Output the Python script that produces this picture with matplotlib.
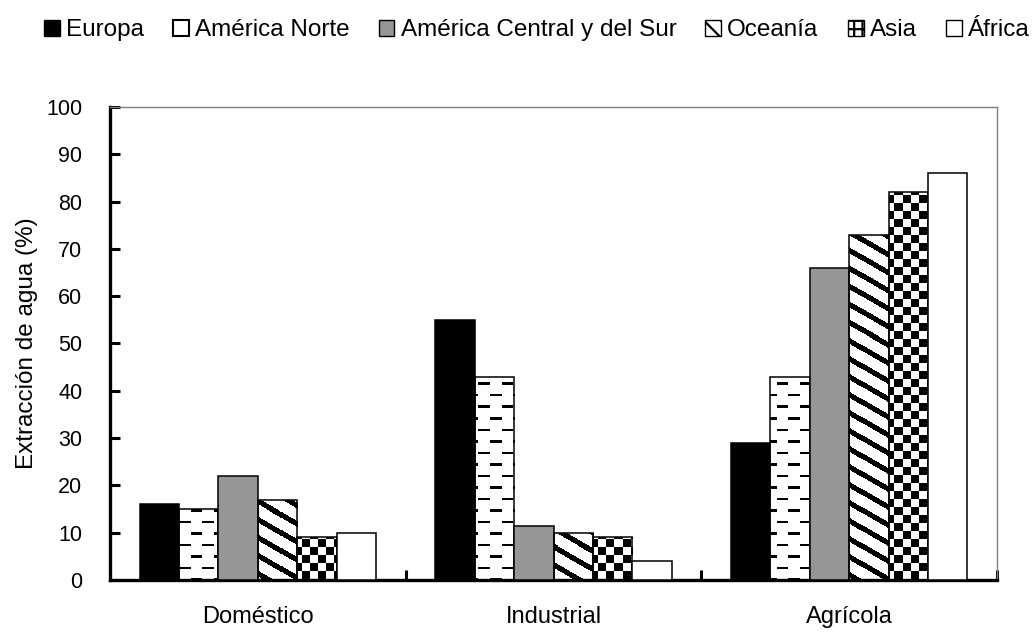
import numpy as np
import matplotlib
matplotlib.use("Agg")
import matplotlib.pyplot as plt
from matplotlib.patches import Patch

# ---- data ----
categories = ["Doméstico", "Industrial", "Agrícola"]
regions = ["Europa", "América Norte", "América Central y del Sur", "Oceanía", "Asia", "África"]
europa = [16, 55, 29]
america_norte = [15, 43, 43]
america_central_sur = [22, 11.5, 66]
oceania = [17, 10, 73]
asia = [9, 9, 82]
africa = [10, 4, 86]
y_ticks = [0, 10, 20, 30, 40, 50, 60, 70, 80, 90, 100]

plt.rcParams["font.family"] = ["Liberation Sans", "DejaVu Sans"]
plt.rcParams["hatch.linewidth"] = 1.6

fig = plt.figure(figsize=(10.36, 6.32), dpi=100)
ax = fig.add_axes([0.1062, 0.0823, 0.8562, 0.7484])

# ---- fill textures (in screen pixels, 2x oversampled) ----
W, H = 887 * 2, 473 * 2
yy, xx = np.mgrid[0:H, 0:W] / 2.0
checker = ((xx // 8 + yy // 8) % 2).astype(float)
stripes = (((yy - 0.58 * xx) % 18) >= 6).astype(float)
dash_a = ((yy % 23) < 2.5) & ((xx % 23) < 11.5)
dash_b = (((yy - 11.5) % 23) < 2.5) & (((xx + 11.5) % 23) < 11.5)
dashes = 1.0 - (dash_a | dash_b)

series = [europa, america_norte, america_central_sur, oceania, asia, africa]
fills = ["black", dashes, "#969696", stripes, checker, "white"]

x = np.arange(len(categories))
width = 0.8 / len(regions)
xlim = (-0.5, len(categories) - 0.5)

for i, (vals, fill) in enumerate(zip(series, fills)):
    pos = x - 0.4 + width * (i + 0.5)
    if isinstance(fill, str):
        ax.bar(pos, vals, width, color=fill, edgecolor="black", linewidth=1.1, zorder=3)
    else:
        bars = ax.bar(pos, vals, width, facecolor="none", edgecolor="black", linewidth=1.1, zorder=3)
        for b in bars:
            im = ax.imshow(fill, cmap="gray", vmin=0, vmax=1, extent=(xlim[0], xlim[1], 0, 100),
                           aspect="auto", interpolation="nearest", zorder=2)
            im.set_clip_path(b)

ax.set_xlim(*xlim)
ax.set_ylim(0, 100)

# ---- axes styling ----
ax.spines["left"].set_linewidth(2.4)
ax.spines["bottom"].set_linewidth(2.4)
for s in ("top", "right"):
    ax.spines[s].set_color("#808080")
    ax.spines[s].set_linewidth(1.0)

ax.set_yticks(y_ticks)
ax.tick_params(axis="y", direction="in", length=7, width=2.2, pad=20, labelsize=15.5)
ax.set_xticks(x)
ax.set_xticklabels(categories)
ax.tick_params(axis="x", which="major", length=0, pad=19, labelsize=17)
ax.set_xticks(x + 0.5, minor=True)
ax.tick_params(axis="x", which="minor", direction="in", length=7, width=2.2)
ax.set_ylabel("Extracción de agua (%)", fontsize=17.5, labelpad=6)

# ---- legend ----
handles = [
    Patch(facecolor="black", edgecolor="black"),
    Patch(facecolor="white", edgecolor="black", linewidth=1.5),
    Patch(facecolor="#969696", edgecolor="black"),
    Patch(facecolor="white", edgecolor="black", hatch="\\\\"),
    Patch(facecolor="white", edgecolor="black", hatch="++"),
    Patch(facecolor="white", edgecolor="black"),
]
fig.legend(handles, regions, loc="center", bbox_to_anchor=(0.518, 0.952), ncol=6, frameon=False,
           fontsize=17.5, handlelength=0.65, handleheight=0.65, handletextpad=0.25, columnspacing=1.2)

fig.savefig("out.png", dpi=100)
